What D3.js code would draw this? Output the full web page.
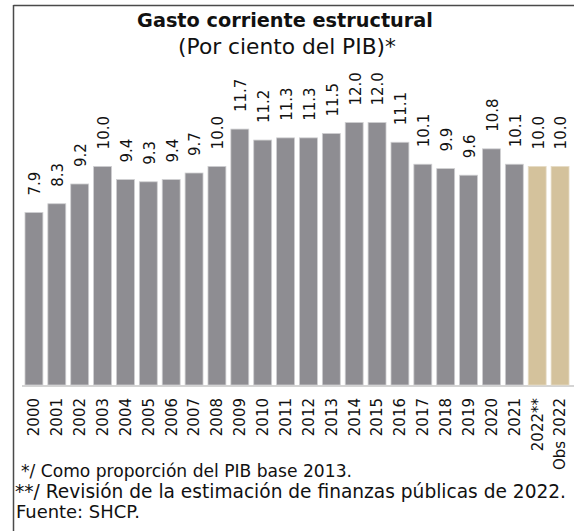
<!DOCTYPE html>
<html>
<head>
<meta charset="utf-8">
<script src="https://cdn.jsdelivr.net/npm/d3@7"></script>
<style>
  html, body { margin: 0; padding: 0; background: #fff; }
  svg { display: block; }
  text { font-family: "DejaVu Sans", "Noto Sans", sans-serif; fill: #111; }
</style>
</head>
<body>
<script>
// ---- data ----
const categories = ["2000","2001","2002","2003","2004","2005","2006","2007","2008","2009","2010","2011",
  "2012","2013","2014","2015","2016","2017","2018","2019","2020","2021","2022**","Obs 2022"];
const values = [7.9, 8.3, 9.2, 10.0, 9.4, 9.3, 9.4, 9.7, 10.0, 11.7, 11.2, 11.3,
  11.3, 11.5, 12.0, 12.0, 11.1, 10.1, 9.9, 9.6, 10.8, 10.1, 10.0, 10.0];
const highlighted = ["2022**", "Obs 2022"];
const title = "Gasto corriente estructural";
const subtitle = "(Por ciento del PIB)*";
const notes = ["*/ Como proporción del PIB base 2013.",
  "**/ Revisión de la estimación de finanzas públicas de 2022.",
  "Fuente: SHCP."];

const W = 574, H = 531;
const svg = d3.select("body").append("svg").attr("width", W).attr("height", H);

// fit a text's font-size so its rendered width equals target
function fit(sel, target) {
  const w = sel.node().getComputedTextLength();
  const fs = parseFloat(sel.style("font-size"));
  sel.style("font-size", (fs * target / w).toFixed(2) + "px");
  return sel;
}

// frame (top & left)
svg.append("line").attr("x1", 13.5).attr("x2", W).attr("y1", 5.5).attr("y2", 5.5)
  .attr("stroke", "#4a4a4a").attr("stroke-width", 1.5);
svg.append("line").attr("x1", 13.5).attr("x2", 13.5).attr("y1", 5).attr("y2", H)
  .attr("stroke", "#4a4a4a").attr("stroke-width", 1.5);

// title
fit(svg.append("text").attr("x", 285).attr("y", 27).attr("text-anchor", "middle")
  .style("font-weight", "700").style("font-size", "16px").text(title), 296);
fit(svg.append("text").attr("x", 287).attr("y", 54).attr("text-anchor", "middle")
  .style("font-size", "17px").text(subtitle), 218);

// scales
const x = d3.scaleBand().domain(categories).range([22.5, 571.5]).paddingInner(0.217).paddingOuter(0.1085);
const y = d3.scaleLinear().domain([0, 12]).range([386, 122.5]);

// baseline
svg.append("line").attr("x1", 22).attr("x2", W).attr("y1", 386).attr("y2", 386)
  .attr("stroke", "#d4d4d4").attr("stroke-width", 2);

const data = categories.map((c, i) => ({ c, v: values[i] }));

svg.append("g").selectAll("rect").data(data).join("rect")
  .attr("x", d => x(d.c)).attr("width", x.bandwidth())
  .attr("y", d => y(d.v)).attr("height", d => y(0) - y(d.v) - 1)
  .attr("fill", d => highlighted.includes(d.c) ? "#d4c29c" : "#8e8d92")
  .attr("stroke", d => highlighted.includes(d.c) ? "#e6dcc6" : "#cfcfd1").attr("stroke-width", 0.8);

// value labels
svg.append("g").selectAll("text").data(data).join("text")
  .attr("transform", d => `translate(${x(d.c) + x.bandwidth() / 2 + 1},${y(d.v) - 17}) rotate(-90)`)
  .attr("dy", "0.36em").attr("text-anchor", "start")
  .style("font-size", "15px")
  .text(d => d3.format(".1f")(d.v));

// x axis labels
const xAxis = d3.axisBottom(x).tickSize(0).tickPadding(0);
const gx = svg.append("g").attr("transform", "translate(0,386)").call(xAxis);
gx.select(".domain").remove();
gx.selectAll(".tick text")
  .attr("transform", "translate(0,12) rotate(-90)")
  .attr("x", 0).attr("y", 0).attr("dy", "0.36em")
  .attr("text-anchor", "end")
  .style("font-family", "\"DejaVu Sans\", sans-serif")
  .style("font-size", "15px").attr("fill", "#111");

// notes
const nx = [21, 15, 16];
const ny = [477, 498, 518];
const nw = [331, 551, 124];
svg.append("g").selectAll("text").data(notes).join("text")
  .attr("x", (d, i) => nx[i]).attr("y", (d, i) => ny[i])
  .style("font-size", "15.5px").text(d => d)
  .each(function (d, i) { fit(d3.select(this), nw[i]); });
</script>
</body>
</html>
